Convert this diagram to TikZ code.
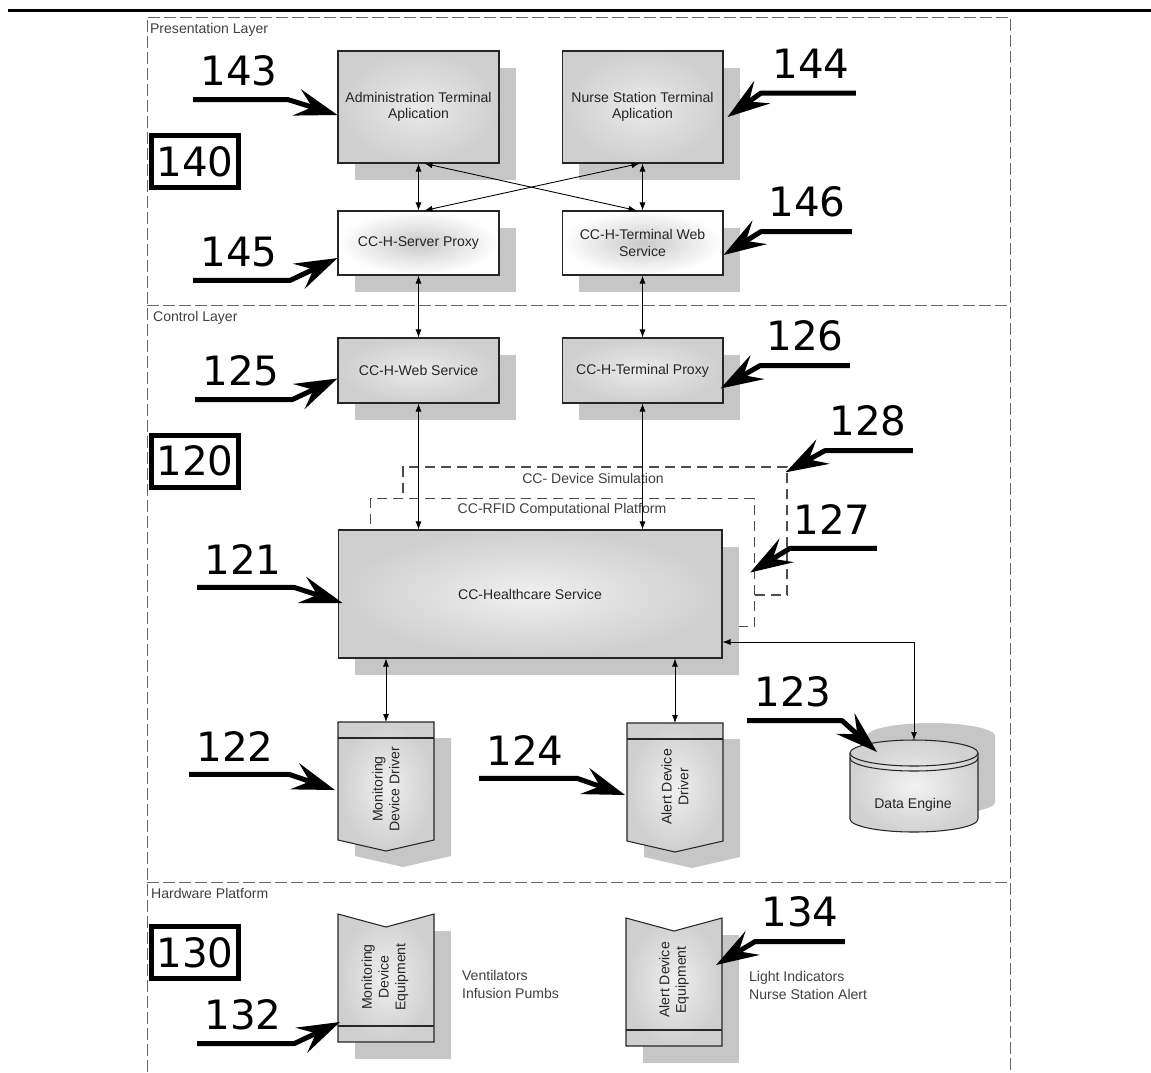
\documentclass[tikz,border=0pt]{standalone}
\usepackage{fontspec}
\setmainfont{Liberation Sans}
\newfontfamily\numfont{DejaVu Sans}
\usetikzlibrary{arrows.meta,shadows,calc}

\tikzset{
  drvpic/.pic={
    \fill[gray!45] (17,16) -- (113,16) -- (113,134) -- (65,145) -- (17,134) -- cycle;
    \path[draw=black!85,line width=0.6pt,inner color=gray!12,outer color=gray!38] (0,0) -- (96,0) -- (96,118) -- (48,129) -- (0,118) -- cycle;
    \draw[black!85,line width=0.6pt] (0,16) -- (96,16);
    \coordinate (-top) at (48,0);
    \coordinate (-w) at (0,68);
  },
  equpic/.pic={
    \fill[gray!45] (17,17) -- (113,17) -- (113,145) -- (17,145) -- cycle;
    \path[draw=black!85,line width=0.6pt,inner color=gray!12,outer color=gray!38] (0,0) -- (48,13) -- (96,0) -- (96,128) -- (0,128) -- cycle;
    \draw[black!85,line width=0.6pt] (0,112) -- (96,112);
    \coordinate (-w) at (0,64);
    \coordinate (-e) at (96,64);
  },
  dbpic/.pic={
    \fill[gray!45] (17,-17) -- (17,49) arc[start angle=180,end angle=0,x radius=64,y radius=13] -- (145,-17) arc[start angle=0,end angle=-180,x radius=64,y radius=13] -- cycle;
    \path[draw=black!85,line width=0.6pt,inner color=gray!10,outer color=gray!36] (0,0) -- (0,66) arc[start angle=180,end angle=0,x radius=64,y radius=13] -- (128,0) arc[start angle=0,end angle=-180,x radius=64,y radius=13] -- cycle;
    \draw[black!85,line width=0.6pt] (0,0) arc[start angle=180,end angle=0,x radius=64,y radius=13];
    \draw[black!85,line width=0.6pt] (0,5) arc[start angle=180,end angle=0,x radius=64,y radius=13];
    \coordinate (-top) at (64,-13);
  }
}

\begin{document}
\begin{tikzpicture}[x=0.02cm,y=-0.02cm,
  boxtxt/.style={font=\fontsize{8}{9.5}\selectfont,text=black!85,align=center},
  appbox/.style={boxtxt,draw=black!85,line width=0.6pt,minimum width=3.22cm,inner color=gray!16,outer color=gray!38,
    drop shadow={shadow xshift=0.34cm,shadow yshift=-0.34cm,fill=gray!45,opacity=1}},
  proxybox/.style={appbox,inner color=gray!42,outer color=white},
  dashbox/.style={draw=black!70,line width=0.8pt,dash pattern=on 0.2cm off 0.12cm,fill=white,minimum width=7.68cm,minimum height=2.56cm},
  layer/.style={draw=black!60,line width=0.5pt,dash pattern=on 0.24cm off 0.08cm},
  lbl/.style={font=\fontsize{8}{9.5}\selectfont,text=black!75,inner sep=1pt},
  vtext/.style={boxtxt,rotate=90},
  num/.style={inner sep=0pt,font=\numfont\fontsize{23}{25}\selectfont},
  tagbox/.style={num,draw,line width=0.1cm,minimum width=1.76cm,minimum height=1.04cm},
  callout/.style={line width=0.1cm,line join=round,-{Stealth[length=0.85cm,width=0.55cm,inset=0.32cm]}},
  dbl/.style={line width=0.5pt,{Latex[length=1.6mm,width=1.2mm]}-{Latex[length=1.6mm,width=1.2mm]}}]
\useasboundingbox (0,0) rectangle (1151,1072);
% page rule and layer frame
\draw[line width=0.06cm] (8,10) -- (1151,10);
\draw[layer] (147,1072) -- (147,17) -- (1010,17) -- (1010,1072);
\draw[layer] (147,305) -- (1010,305);
\draw[layer] (147,882) -- (1010,882);
\node[lbl,anchor=west] (lpres) at (148,30) {Presentation Layer};
\node[lbl,anchor=west] (lctrl) at (151,318) {Control Layer};
\node[lbl,anchor=west] (lhw) at (149,893) {Hardware Platform};
% presentation layer
\node[appbox,minimum height=2.24cm] (adm) at (418.5,107) {Administration Terminal\\Aplication};
\node[appbox,minimum height=2.24cm] (nst) at (642.5,107) {Nurse Station Terminal\\Aplication};
\node[proxybox,minimum height=1.28cm] (sp) at (418.5,243) {CC-H-Server Proxy};
\node[proxybox,minimum height=1.28cm] (tws) at (642.5,243) {CC-H-Terminal Web\\Service};
% control layer
\node[appbox,minimum height=1.30cm] (ws) at (418.5,370.5) {CC-H-Web Service};
\node[appbox,minimum height=1.30cm] (tp) at (642.5,370.5) {CC-H-Terminal Proxy};
\node[dashbox] (sim) at (595,531) {};
\node[lbl] (simlbl) at (593,478) {CC- Device Simulation};
\node[dashbox] (rfid) at (562.5,562.5) {};
\node[lbl] (rfidlbl) at (562,510) {CC-RFID Computational Platform};
\node[appbox,minimum width=7.68cm,minimum height=2.56cm,inner color=gray!12,outer color=gray!38] (hc) at (530,594) {CC-Healthcare Service};
\pic (mdrv) at (338,722) {drvpic};
\pic (adrv) at (627,723) {drvpic};
\node[vtext] (mdrvt) at (386,789) {Monitoring\\Device Driver};
\node[vtext] (adrvt) at (675,787) {Alert Device\\Driver};
\pic (db) at (850,753) {dbpic};
\node[boxtxt] (dbt) at (913,805) {Data Engine};
% hardware platform
\pic (meq) at (338,914) {equpic};
\pic (aeq) at (626,918) {equpic};
\node[vtext] (meqt) at (385,977) {Monitoring\\Device\\Equipment};
\node[vtext] (aeqt) at (674,980) {Alert Device\\Equipment};
\node[lbl,align=left,anchor=west,font=\fontsize{8}{10.2}\selectfont] (meqnote) at (460,984) {Ventilators\\Infusion Pumbs};
\node[lbl,align=left,anchor=west,font=\fontsize{8}{10.2}\selectfont] (aeqnote) at (747,985) {Light Indicators\\Nurse Station Alert};
% layer tags
\node[tagbox] (t140) at (195,161.5) {140};
\node[tagbox] (t120) at (195,461) {120};
\node[tagbox] (t130) at (195,952.5) {130};
% links
\draw[dbl] (adm.south) -- (sp.north);
\draw[dbl] (nst.south) -- (tws.north);
\draw[dbl] ($(adm.south)+(6,0)$) -- ($(tws.north)+(-6,0)$);
\draw[dbl] ($(nst.south)+(-3,0)$) -- ($(sp.north)+(6,0)$);
\draw[dbl] (sp.south) -- (ws.north);
\draw[dbl] (tws.south) -- (tp.north);
\draw[dbl] (ws.south) -- (ws.south |- hc.north);
\draw[dbl] (tp.south) -- (tp.south |- hc.north);
\draw[dbl] (hc.south -| mdrv-top) -- (mdrv-top);
\draw[dbl] (hc.south -| adrv-top) -- (adrv-top);
\draw[dbl] (db-top) |- ($(hc.east)+(0,48)$);
% reference numerals
\foreach \id/\cx/\cy/\dx/\anc/\ox/\oy in {
  143/239/71/95/adm.west/0/8,
  145/239/252/97/sp.west/0/15,
  125/241/371/97/ws.west/0/8,
  121/243/559/97/hc.west/5/9,
  122/235/746/100/mdrv-w/-3/0,
  124/525/750/98/adrv-w/-2/4,
  123/793/692/95/db-top/-37/12,
  132/243/1015/97/meq-w/2/44}
{
  \node[num] (n\id) at (\cx,\cy) {\id};
  \draw[callout] ([shift={(-7,13)}]n\id.south west) -- ++(\dx,0) -- ($(\anc)+(\ox,\oy)$);
}
\foreach \id/\cx/\cy/\dx/\anc/\ox/\oy in {
  144/811/64/-95/nst.east/4/10,
  146/807/202/-91/tws.east/0/12,
  126/805/336/-90/tp.east/-3/18,
  128/868/421/-88/sim.north east/-2/6,
  127/832/519/-87/rfid.east/-5/10,
  134/800/912/-90/aeq-e/-6/-17}
{
  \node[num] (n\id) at (\cx,\cy) {\id};
  \draw[callout] ([shift={(6,14)}]n\id.south east) -- ++(\dx,0) -- ($(\anc)+(\ox,\oy)$);
}
\end{tikzpicture}
\end{document}
